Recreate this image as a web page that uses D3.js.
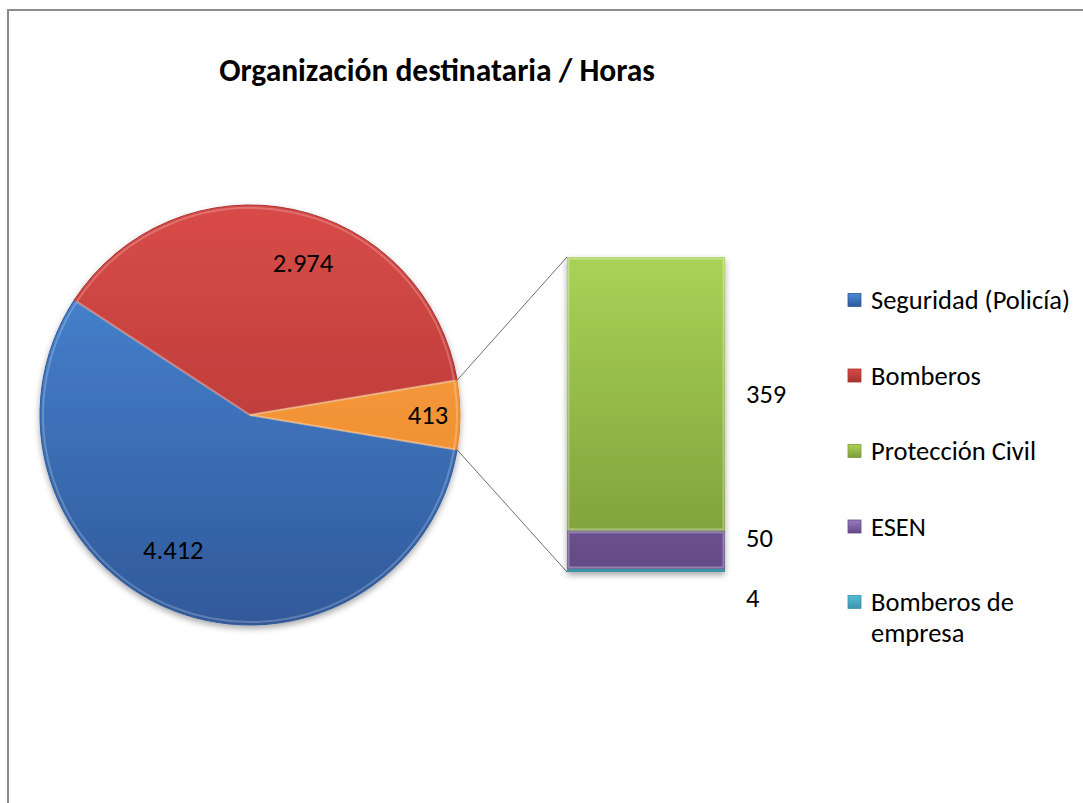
<!DOCTYPE html>
<html>
<head>
<meta charset="utf-8">
<script src="https://cdn.jsdelivr.net/npm/d3@7"></script>
<style>
  html, body { margin: 0; padding: 0; background: #fff; }
  svg { display: block; }
  text { font-family: Carlito, Calibri, Lato, sans-serif; fill: #000; }
</style>
</head>
<body>
<div id="chart"></div>
<script>
(function() {
  var width = 1083, height = 803;

  // data
  var title = 'Organización destinataria / Horas';
  var pieNames = ['Seguridad (Policía)', 'Bomberos'];
  var pieValues = [4412, 2974];
  var barNames = ['Protección Civil', 'ESEN', 'Bomberos de empresa'];
  var barValues = [359, 50, 4];
  var pieColors = [['#4a8ad8', '#30599a'], ['#d84b48', '#a9322f'], ['#fca443', '#e8842a']];
  var barColors = [['#a9d356', '#7c9c38'], ['#9a7cc0', '#634a85'], ['#55bcd6', '#3a93ab']];

  var es = d3.formatLocale({decimal: ',', thousands: '.', grouping: [3], currency: ['', ' €']});
  var fmt = es.format(',d');

  var other = d3.sum(barValues);
  var allPie = pieValues.concat([other]);
  var total = d3.sum(allPie);
  var otherAngle = 2 * Math.PI * other / total;
  var start = Math.PI / 2 + otherAngle / 2;

  var cx = 250, cy = 415, r = 210;
  var barX = 567, barW = 158, barTop = 257, barBottom = 572;
  var legendX = 848, legendTextX = 871, legendY = 300, legendStep = 75.5;
  var fs = 26.5;
  var labelR = [155, 161, 178], labelShift = [8.3, 7.4, 0];

  var svg = d3.select('#chart').append('svg').attr('width', width).attr('height', height);
  var defs = svg.append('defs');

  defs.append('filter').attr('id', 'shadow').attr('x', '-20%').attr('y', '-20%').attr('width', '140%').attr('height', '140%')
    .append('feDropShadow').attr('dx', 0).attr('dy', 3).attr('stdDeviation', 3).attr('flood-color', '#000').attr('flood-opacity', 0.35);

  var addGrad = function(id, c, user, y1, y2) {
    var g = defs.append('linearGradient').attr('id', id).attr('x1', 0).attr('x2', 0);
    if (user) {
      g.attr('gradientUnits', 'userSpaceOnUse').attr('y1', y1).attr('y2', y2);
    } else {
      g.attr('y1', 0).attr('y2', 1);
    }
    g.append('stop').attr('offset', '0%').attr('stop-color', c[0]);
    g.append('stop').attr('offset', '100%').attr('stop-color', c[1]);
  };
  pieColors.forEach(function(c, i) { addGrad('pg' + i, c, true, -r, r); });
  barColors.forEach(function(c, i) { addGrad('bg' + i, c, true, barTop, barBottom); });
  var legendColors = pieColors.slice(0, pieNames.length).concat(barColors);
  legendColors.forEach(function(c, i) { addGrad('lg' + i, c, false); });

  // frame
  svg.append('path').attr('d', 'M8,' + height + 'V10H' + width).attr('fill', 'none').attr('stroke', '#8c8c8c').attr('stroke-width', 2);

  svg.append('text').attr('x', 437).attr('y', 70).attr('text-anchor', 'middle').attr('dominant-baseline', 'central')
    .attr('font-size', 31.5).attr('font-weight', 'bold').text(title);

  // pie
  var pie = d3.pie().sort(null).startAngle(start).endAngle(start + 2 * Math.PI);
  var arcs = pie(allPie);
  var arc = d3.arc().innerRadius(0).outerRadius(r);
  var pieG = svg.append('g').attr('transform', 'translate(' + cx + ',' + cy + ')');
  pieG.append('g').attr('filter', 'url(#shadow)').selectAll('path').data(arcs).enter().append('path')
    .attr('d', arc).attr('fill', function(d, i) { return 'url(#pg' + i + ')'; })
    .attr('stroke', function(d, i) { return pieColors[i][1]; }).attr('stroke-width', 1)
    .attr('stroke-linejoin', 'round');
  // bevel highlight
  var inner = d3.arc().innerRadius(0).outerRadius(r - 3);
  pieG.append('g').selectAll('path').data(arcs).enter().append('path')
    .attr('d', inner).attr('fill', 'none').attr('stroke', '#fff').attr('stroke-opacity', 0.22).attr('stroke-width', 2);

  pieG.selectAll('text.val').data(arcs).enter().append('text').attr('class', 'val')
    .attr('transform', function(d, i) {
      var a = (d.startAngle + d.endAngle) / 2 + labelShift[i] * Math.PI / 180;
      return 'translate(' + (labelR[i] * Math.sin(a)) + ',' + (-labelR[i] * Math.cos(a)) + ')';
    })
    .attr('text-anchor', 'middle').attr('dominant-baseline', 'central').attr('font-size', fs)
    .text(function(d) { return fmt(d.data); });

  // connectors from the "other" slice to the bar
  var o = arcs[2];
  var p1 = [cx + r * Math.sin(o.startAngle), cy - r * Math.cos(o.startAngle)];
  var p2 = [cx + r * Math.sin(o.endAngle), cy - r * Math.cos(o.endAngle)];
  svg.append('line').attr('x1', p1[0]).attr('y1', p1[1]).attr('x2', barX).attr('y2', barTop).attr('stroke', '#6e6e6e').attr('stroke-width', 1);
  svg.append('line').attr('x1', p2[0]).attr('y1', p2[1]).attr('x2', barX).attr('y2', barBottom).attr('stroke', '#6e6e6e').attr('stroke-width', 1);

  // stacked bar, first item on top
  var y = d3.scaleLinear().domain([0, other]).range([barBottom, barTop]);
  var segs = [], acc = 0;
  for (var i = barValues.length - 1; i >= 0; i--) {
    segs[i] = {i: i, y0: acc, y1: acc + barValues[i], v: barValues[i]};
    acc += barValues[i];
  }
  var barG = svg.append('g');
  barG.append('g').attr('filter', 'url(#shadow)').selectAll('rect').data(segs).enter().append('rect')
    .attr('x', barX).attr('width', barW)
    .attr('y', function(d) { return y(d.y1); }).attr('height', function(d) { return y(d.y0) - y(d.y1); })
    .attr('fill', function(d) { return 'url(#bg' + d.i + ')'; });
  barG.selectAll('rect.hl').data(segs.filter(function(d) { return y(d.y0) - y(d.y1) > 8; })).enter().append('rect')
    .attr('x', barX + 1.5).attr('width', barW - 3)
    .attr('y', function(d) { return y(d.y1) + 1.5; }).attr('height', function(d) { return y(d.y0) - y(d.y1) - 3; })
    .attr('fill', 'none').attr('stroke', '#fff').attr('stroke-opacity', 0.3).attr('stroke-width', 2);

  // bar labels, spread apart where they would overlap
  var pos = segs.map(function(d) { return (y(d.y0) + y(d.y1)) / 2; });
  var gap = 60;
  var k = 0;
  while (k < pos.length) {
    var j = k;
    while (j + 1 < pos.length && pos[j + 1] - pos[j] < gap) j++;
    if (j > k) {
      var m = d3.mean(pos.slice(k, j + 1));
      for (var t = k; t <= j; t++) pos[t] = m + (t - (k + j) / 2) * gap + 8;
    }
    k = j + 1;
  }
  svg.selectAll('text.bv').data(segs).enter().append('text').attr('class', 'bv')
    .attr('x', barX + barW + 21).attr('y', function(d, i) { return pos[i]; })
    .attr('dominant-baseline', 'central').attr('font-size', fs)
    .text(function(d) { return fmt(d.v); });

  // legend
  var names = pieNames.concat(barNames);
  var maxW = width - legendTextX;
  var leg = svg.append('g').selectAll('g').data(names).enter().append('g')
    .attr('transform', function(d, i) { return 'translate(0,' + (legendY + i * legendStep) + ')'; });
  leg.append('rect').attr('x', legendX).attr('y', -6.5).attr('width', 13).attr('height', 13)
    .attr('fill', function(d, i) { return 'url(#lg' + i + ')'; })
    .attr('stroke', function(d, i) { return legendColors[i][1]; }).attr('stroke-width', 0.8);
  leg.append('text').attr('x', legendTextX).attr('font-size', fs).attr('dominant-baseline', 'central')
    .each(function(d) {
      var el = d3.select(this), words = d.split(' '), line = [];
      var ts = el.append('tspan').attr('x', legendTextX).attr('dy', 0);
      words.forEach(function(w) {
        line.push(w);
        ts.text(line.join(' '));
        if (ts.node().getComputedTextLength() > maxW && line.length > 1) {
          line.pop();
          ts.text(line.join(' '));
          line = [w];
          ts = el.append('tspan').attr('x', legendTextX).attr('dy', 31).text(w);
        }
      });
    });
}).call(this);
</script>
</body>
</html>
